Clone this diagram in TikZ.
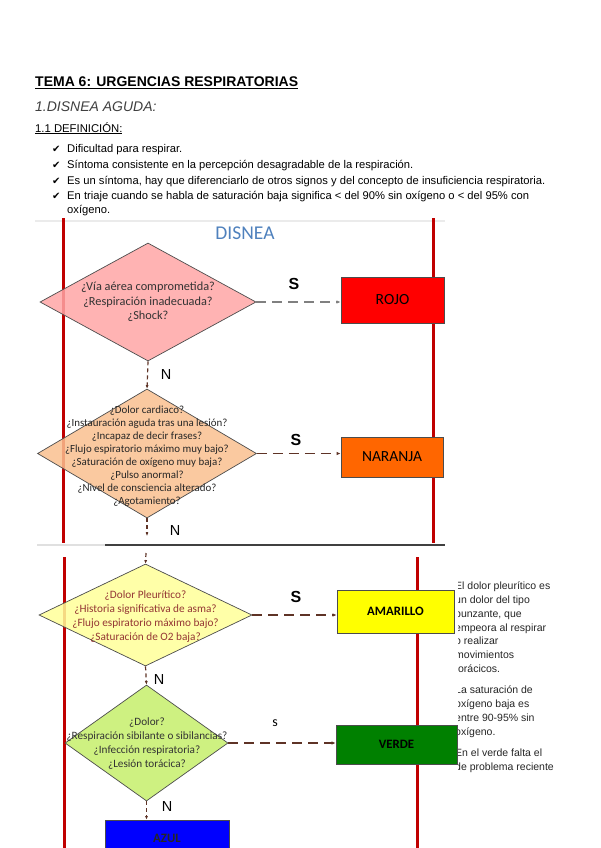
\documentclass[tikz,border=0pt]{standalone}
\usepackage{fontspec}
\setmainfont{Liberation Sans}
\newfontfamily\carlito{Carlito}
\newfontfamily\dejavu{DejaVu Sans}
\usepackage{tikz}
\usetikzlibrary{arrows.meta,positioning,shapes.geometric}
\definecolor{linered}{HTML}{C00000}
\definecolor{rosa}{HTML}{FFA6A6}
\definecolor{melocoton}{HTML}{FAC090}
\definecolor{crema}{HTML}{FFFF99}
\definecolor{lima}{HTML}{C6EF6B}
\definecolor{rojo}{HTML}{FF0000}
\definecolor{naranja}{HTML}{FF6600}
\definecolor{amarillo}{HTML}{FFFF00}
\definecolor{verde}{HTML}{008000}
\definecolor{azul}{HTML}{0000FF}
\definecolor{marron}{HTML}{5E3326}
\definecolor{titleblue}{HTML}{4F81BD}
\definecolor{granate}{HTML}{943634}
\newcommand\setfs[2]{\fontsize{#1}{#2}\selectfont}

\tikzset{
  dia/.style={diamond,draw=black!70,line width=0.7pt,inner sep=0pt,fill opacity=0.85},
  qtext/.style={align=center,inner sep=0pt,text=black!80},
  triage/.style={rectangle,draw=black!70,line width=0.8pt,inner sep=0pt},
  sarrow/.style={draw=marron,line width=1.6pt,dash pattern=on 10pt off 6pt,-{Latex[length=4pt,width=3.5pt]}},
  narrow/.style={draw=marron,line width=1.2pt,dash pattern=on 4pt off 3pt,-{Latex[length=3.5pt,width=3pt]}},
  lbl/.style={inner sep=0pt,font=\setfs{14.5}{16}},
  bul/.style={anchor=base west,inner sep=0pt,font=\setfs{11.2}{13}},
  checkmk/.style={anchor=base west,inner sep=0pt,font=\dejavu\setfs{10}{12}},
  swimline/.style={draw=linered,line width=3pt},
  nota/.style={anchor=north west,inner sep=0pt,align=left,font=\setfs{10.5}{13.7},text=black!85}
}

\begin{document}
\begin{tikzpicture}[x=1pt,y=-1pt]
  \useasboundingbox (0,0) rectangle (600,848);
  \fill[white] (0,0) rectangle (600,848);

  % cabecera
  \node[anchor=base west,inner sep=0pt,font=\bfseries\setfs{14}{16}] (tema) at (35,87) {\underline{TEMA 6: URGENCIAS RESPIRATORIAS}};
  \node[anchor=base west,inner sep=0pt,font=\itshape\setfs{14}{16},text=black!75] (disnea) at (35,112) {1.DISNEA AGUDA:};
  \node[anchor=base west,inner sep=0pt,font=\setfs{11.3}{13}] (def) at (35,132) {\underline{1.1 DEFINICIÓN:}};
  \node[checkmk] (c1) at (52,152) {✔};
  \node[checkmk] (c2) at (52,168) {✔};
  \node[checkmk] (c3) at (52,184) {✔};
  \node[checkmk] (c4) at (52,199) {✔};
  \node[bul] (b1) at (67,152) {Dificultad para respirar.};
  \node[bul] (b2) at (67,168) {Síntoma consistente en la percepción desagradable de la respiración.};
  \node[bul] (b3) at (67,184) {Es un síntoma, hay que diferenciarlo de otros signos y del concepto de insuficiencia respiratoria.};
  \node[bul] (b4) at (67,199) {En triaje cuando se habla de saturación baja significa < del 90\% sin oxígeno o < del 95\% con};
  \node[bul] (b5) at (67,213) {oxígeno.};

  % marco
  \draw[black!8,line width=2pt] (35,221) -- (445,221);
  \draw[swimline] (63,218) -- (63,543);
  \draw[swimline] (433,218) -- (433,543);
  \draw[black!12,line width=1.5pt] (37,545) -- (445,545);
  \draw[black!75,line width=1.2pt] (105,545) -- (445,545);
  \draw[swimline] (64,557) -- (64,848);
  \draw[swimline] (417,557) -- (417,848);

  \node[font=\carlito\setfs{19.5}{22},text=titleblue,inner sep=0pt] (titulo) at (245,233) {DISNEA};

  % rojo
  \node[dia,fill=rosa,minimum width=216pt,minimum height=118pt] (d1) at (148,302) {};
  \node[qtext,font=\carlito\setfs{12.3}{14.5}] (q1) at (d1) {¿Vía aérea comprometida?\\¿Respiración inadecuada?\\¿Shock?};
  \node[triage,fill=rojo,minimum width=103pt,minimum height=46pt,font=\carlito\setfs{15.5}{18}] (rojo) at (392.5,300) {ROJO};
  \draw[sarrow,draw=black!50,line width=1.4pt] (d1.east) -- (d1.east -| rojo.west);
  \node[lbl,font=\bfseries\setfs{16}{18}] (s1) at (294,284) {S};

  % naranja
  \node[dia,fill=melocoton,minimum width=219pt,minimum height=129pt] (d2) at (147,453.5) {};
  \node[qtext,text=black!85,font=\carlito\setfs{10.9}{13}] (q2) at (147,456.5) {¿Dolor cardiaco?\\¿Instauración aguda tras una lesión?\\¿Incapaz de decir frases?\\¿Flujo espiratorio máximo muy bajo?\\¿Saturación de oxígeno muy baja?\\¿Pulso anormal?\\¿Nivel de consciencia alterado?\\¿Agotamiento?};
  \node[triage,fill=naranja,minimum width=102pt,minimum height=40pt,font=\carlito\setfs{15.5}{18}] (naranja) at (392,457) {NARANJA};
  \draw[narrow] (d1.south) -- (d2.north);
  \node[lbl] (n1) at (166,375) {N};
  \draw[sarrow,line width=1.2pt] (d2.east) -- (d2.east -| naranja.west);
  \node[lbl,font=\bfseries\setfs{16}{18}] (s2) at (296,440) {S};

  \coordinate (cut1) at (147,536);
  \coordinate (cut2) at (146,553);
  \draw[narrow] (d2.south) -- (cut1);
  \node[lbl] (n2) at (175,531) {N};

  % amarillo
  \node[dia,fill=crema,minimum width=213pt,minimum height=102pt] (d3) at (145.5,615) {};
  \node[qtext,text=granate,font=\carlito\setfs{11.25}{14}] (q3) at (145.5,616.5) {¿Dolor Pleurítico?\\¿Historia significativa de asma?\\¿Flujo espiratorio máximo bajo?\\¿Saturación de O2 baja?};
  \node[triage,fill=amarillo,minimum width=117pt,minimum height=43pt,font=\carlito\bfseries\setfs{12.8}{15}] (amarillo) at (395.5,611.5) {AMARILLO};
  \draw[narrow] (cut2) -- (d3.north);
  \draw[sarrow] (d3.east) -- (d3.east -| amarillo.west);
  \node[lbl,font=\bfseries\setfs{16}{18}] (s3) at (296,597) {S};

  % verde
  \node[dia,fill=lima,minimum width=163pt,minimum height=116pt] (d4) at (146.5,743) {};
  \node[qtext,font=\carlito\setfs{11.2}{14}] (q4) at (147,744) {¿Dolor?\\¿Respiración sibilante o sibilancias?\\¿Infección respiratoria?\\¿Lesión torácica?};
  \node[triage,fill=verde,minimum width=121pt,minimum height=39pt,font=\carlito\bfseries\setfs{12.8}{15}] (verde) at (396.5,744.5) {VERDE};
  \draw[narrow] (d3.south) -- (d4.north);
  \node[lbl] (n3) at (159,680) {N};
  \draw[sarrow] (d4.east) -- (d4.east -| verde.west);
  \node[lbl,font=\carlito\setfs{14}{16}] (s4) at (275,723) {s};

  % azul
  \node[triage,fill=azul,minimum width=124pt,minimum height=36pt,font=\carlito\bfseries\setfs{12.8}{15},text=black!85] (azul) at (167,838) {AZUL};
  \draw[narrow] (d4.south) -- (d4.south |- azul.north);
  \node[lbl] (n4) at (167,807) {N};

  % notas
  \begin{scope}
    \clip (458,570) rectangle (600,780);
    \node[nota] (nota1) at (455,582) {El dolor pleurítico es\\un dolor del tipo\\punzante, que\\empeora al respirar\\o realizar\\movimientos\\torácicos.};
    \node[nota] (nota2) at (455,686) {La saturación de\\oxígeno baja es\\entre 90-95\% sin\\oxígeno.};
    \node[nota] (nota3) at (455,749) {En el verde falta el\\de problema reciente};
  \end{scope}
\end{tikzpicture}
\end{document}
